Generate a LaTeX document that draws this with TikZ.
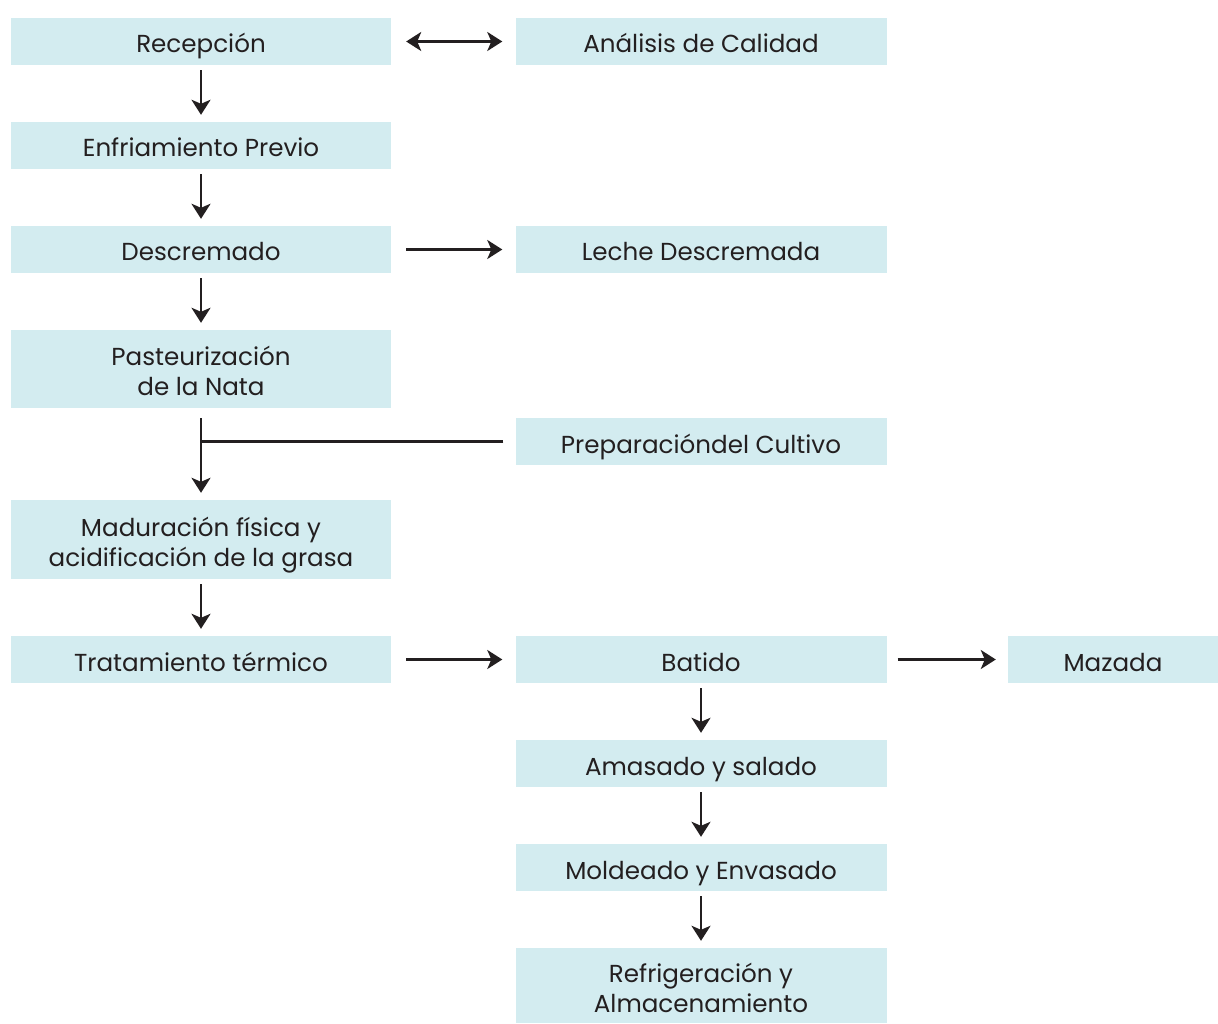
\documentclass[tikz,border=0pt]{standalone}
\usepackage{fontspec}
\setmainfont{Poppins}
\usetikzlibrary{arrows.meta}
\definecolor{boxfill}{HTML}{D3ECF0}
\definecolor{ink}{HTML}{231F20}
\tikzset{
  box/.style={rectangle, fill=boxfill, draw=none, inner sep=0pt, align=center,
    text=ink, font=\fontsize{24.6}{30}\selectfont, minimum width=380pt, minimum height=47pt,
    text height=24pt, text depth=1pt},
  wbox/.style={box, minimum width=371pt},
  twoline/.style={text height=54pt},
  conn/.style={draw=ink, line width=2.5pt},
  arr/.style={conn, -{Stealth[length=15pt, width=19pt, inset=4pt]}},
  darr/.style={conn, {Stealth[length=15pt, width=19pt, inset=4pt]}-{Stealth[length=15pt, width=19pt, inset=4pt]}},
}
\begin{document}
\begin{tikzpicture}[x=1pt,y=-1pt]
\useasboundingbox (0,0) rectangle (1218,1024);
\node[box] (rec) at (201,41.5) {Recepción};
\node[wbox] (ana) at (701,41.5) {Análisis de Calidad};
\node[box] (enf) at (201,145.5) {Enfriamiento Previo};
\node[box] (des) at (201,249.5) {Descremado};
\node[wbox] (lec) at (701,249.5) {Leche Descremada};
\node[box, twoline, minimum height=78pt] (pas) at (201,369) {Pasteurización\\de la Nata};
\node[wbox] (pre) at (701,441.5) {Preparacióndel Cultivo};
\node[box, twoline, minimum height=79pt] (mad) at (201,539.5) {Maduración física y\\acidificación de la grasa};
\node[box] (tra) at (201,659.5) {Tratamiento térmico};
\node[wbox] (bat) at (701,659.5) {Batido};
\node[box, minimum width=210pt] (maz) at (1113,659.5) {Mazada};
\node[wbox] (ama) at (701,763.5) {Amasado y salado};
\node[wbox] (mol) at (701,867.5) {Moldeado y Envasado};
\node[wbox, twoline, minimum height=75pt] (ref) at (701,985.5) {Refrigeración y\\Almacenamiento};

\draw[darr, shorten <=15pt, shorten >=13pt] (rec.east) -- (ana.west);
\draw[arr, shorten <=5pt, shorten >=7pt] (rec.south) -- (enf.north);
\draw[arr, shorten <=5pt, shorten >=7pt] (enf.south) -- (des.north);
\draw[arr, shorten <=15pt, shorten >=13pt] (des.east) -- (lec.west);
\draw[arr, shorten <=5pt, shorten >=7pt] (des.south) -- (pas.north);
\coordinate (j) at (pas.south |- pre.west);
\draw[conn, shorten <=12pt] (pre.west) -- (j);
\draw[arr, shorten <=10pt, shorten >=7pt] (pas.south) -- (mad.north);
\draw[arr, shorten <=5pt, shorten >=7pt] (mad.south) -- (tra.north);
\draw[arr, shorten <=15pt, shorten >=13pt] (tra.east) -- (bat.west);
\draw[arr, shorten <=11pt, shorten >=12pt] (bat.east) -- (maz.west);
\draw[arr, shorten <=5pt, shorten >=7pt] (bat.south) -- (ama.north);
\draw[arr, shorten <=5pt, shorten >=7pt] (ama.south) -- (mol.north);
\draw[arr, shorten <=5pt, shorten >=7pt] (mol.south) -- (ref.north);
\end{tikzpicture}
\end{document}
